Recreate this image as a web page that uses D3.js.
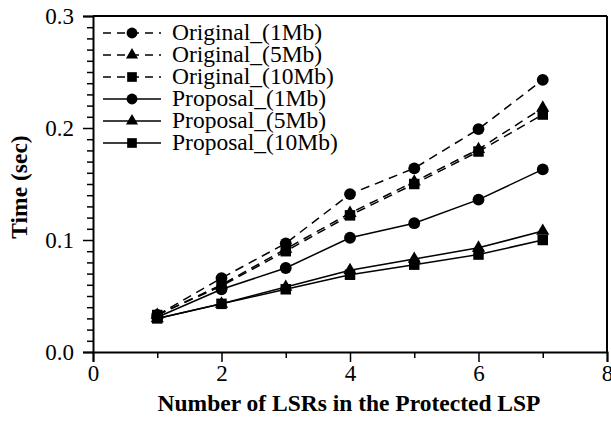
<!DOCTYPE html>
<html>
<head>
<meta charset="utf-8">
<script src="https://cdn.jsdelivr.net/npm/d3@7"></script>
<style>
  body { margin: 0; background: #fff; }
</style>
</head>
<body>
<svg width="611" height="425" font-family="Liberation Serif"></svg>
<script>
const lsrs = [1, 2, 3, 4, 5, 6, 7];
const orig1 = [0.033, 0.066, 0.097, 0.141, 0.164, 0.199, 0.243];
const orig5 = [0.033, 0.060, 0.092, 0.124, 0.152, 0.181, 0.218];
const orig10 = [0.033, 0.059, 0.090, 0.122, 0.150, 0.179, 0.212];
const prop1 = [0.031, 0.056, 0.075, 0.102, 0.115, 0.136, 0.163];
const prop5 = [0.030, 0.043, 0.058, 0.073, 0.083, 0.093, 0.108];
const prop10 = [0.030, 0.043, 0.056, 0.069, 0.078, 0.087, 0.100];
const seriesNames = ["Original_(1Mb)", "Original_(5Mb)", "Original_(10Mb)",
  "Proposal_(1Mb)", "Proposal_(5Mb)", "Proposal_(10Mb)"];
const xTicks = [0, 2, 4, 6, 8];
const yTicks = [0.0, 0.1, 0.2, 0.3];

const FONT = "Liberation Serif";

const series = [
  { name: seriesNames[0], values: orig1, dashed: true, symbol: d3.symbolCircle },
  { name: seriesNames[1], values: orig5, dashed: true, symbol: d3.symbolTriangle },
  { name: seriesNames[2], values: orig10, dashed: true, symbol: d3.symbolSquare },
  { name: seriesNames[3], values: prop1, dashed: false, symbol: d3.symbolCircle },
  { name: seriesNames[4], values: prop5, dashed: false, symbol: d3.symbolTriangle },
  { name: seriesNames[5], values: prop10, dashed: false, symbol: d3.symbolSquare },
];

const svg = d3.select("svg");
const x = d3.scaleLinear().domain([0, 8]).range([93, 607]);
const y = d3.scaleLinear().domain([0, 0.3]).range([352, 16]);

function sym(s, k = 1) {
  const size = s === d3.symbolCircle ? 110 : s === d3.symbolTriangle ? 75 : 110;
  return d3.symbol().type(s).size(size * k)();
}

// frame (top & right)
svg.append("line").attr("x1", x(0)).attr("x2", x(8)).attr("y1", y(0.3)).attr("y2", y(0.3))
  .attr("stroke", "#000").attr("stroke-width", 2);
svg.append("line").attr("x1", x(8)).attr("x2", x(8)).attr("y1", y(0.3)).attr("y2", y(0))
  .attr("stroke", "#000").attr("stroke-width", 2);

// x axis
const xAxis = d3.axisBottom(x).tickValues(xTicks).tickFormat(d3.format("d")).tickSize(10).tickPadding(3);
const gx = svg.append("g").attr("transform", `translate(0,${y(0)})`).call(xAxis);
gx.append("g").call(d3.axisBottom(x).tickValues([1, 3, 5, 7]).tickFormat("").tickSize(6))
  .select(".domain").remove();
// y axis
const yAxis = d3.axisLeft(y).tickValues(yTicks).tickFormat(d3.format(".1f")).tickSize(10).tickPadding(9);
const gy = svg.append("g").attr("transform", `translate(${x(0)},0)`).call(yAxis);
gy.append("g").call(d3.axisLeft(y).tickValues(d3.range(1, 30).filter(i => i % 10 !== 0).map(i => i / 100))
  .tickFormat("").tickSize(6)).select(".domain").remove();

svg.selectAll("g").attr("font-family", FONT);
svg.selectAll(".tick line").attr("stroke", "#000").attr("stroke-width", 1.5);
svg.selectAll(".domain").attr("stroke", "#000").attr("stroke-width", 2);
svg.selectAll(".tick text").attr("font-family", FONT).attr("font-size", 23).attr("fill", "#000");

// titles
svg.append("text").attr("x", 349).attr("y", 411).attr("text-anchor", "middle")
  .attr("font-family", FONT).attr("font-size", 23.5).attr("font-weight", "bold")
  .text("Number of LSRs in the Protected LSP");
svg.append("text").attr("transform", "translate(27,187) rotate(-90)").attr("text-anchor", "middle")
  .attr("font-family", FONT).attr("font-size", 23.5).attr("font-weight", "bold")
  .text("Time (sec)");

// series
const line = d3.line().x((d, i) => x(lsrs[i])).y(d => y(d));
series.forEach(s => {
  svg.append("path").datum(s.values).attr("d", line).attr("fill", "none")
    .attr("stroke", "#000").attr("stroke-width", 1.5)
    .attr("stroke-dasharray", s.dashed ? "9,6" : null);
  svg.append("g").selectAll("path").data(s.values).join("path")
    .attr("transform", (d, i) => `translate(${x(lsrs[i])},${y(d)})`)
    .attr("d", sym(s.symbol)).attr("fill", "#000");
});

// legend
const leg = svg.append("g");
series.forEach((s, i) => {
  const ly = 33 + i * 22;
  leg.append("line").attr("x1", 103).attr("x2", 161).attr("y1", ly).attr("y2", ly)
    .attr("stroke", "#000").attr("stroke-width", 1.5)
    .attr("stroke-dasharray", s.dashed ? "8,6" : null);
  leg.append("path").attr("transform", `translate(132,${ly})`).attr("d", sym(s.symbol, 0.85)).attr("fill", "#000");
  leg.append("text").attr("x", 172).attr("y", ly + 7)
    .attr("font-family", FONT).attr("font-size", 23.5).text(s.name);
});
</script>
</body>
</html>
